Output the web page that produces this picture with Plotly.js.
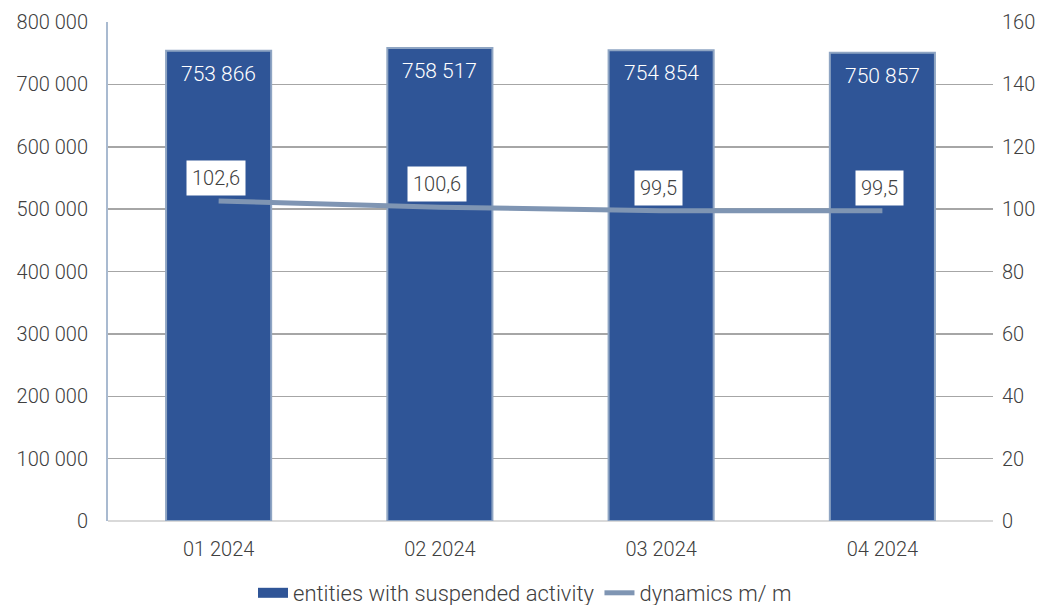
<!DOCTYPE html>
<html>
<head>
<meta charset="utf-8">
<script src="https://cdn.plot.ly/plotly-3.0.1.min.js"></script>
<style>html,body{margin:0;padding:0;background:#fff;}#chart{width:1050px;height:605px;}</style>
</head>
<body>
<div id="chart"></div>
<script>
const categories = ['01 2024', '02 2024', '03 2024', '04 2024'];
const entities = [753866, 758517, 754854, 750857];
const dynamics = [102.6, 100.6, 99.5, 99.5];
const leftTicks = [0, 100000, 200000, 300000, 400000, 500000, 600000, 700000, 800000];
const rightTicks = [0, 20, 40, 60, 80, 100, 120, 140, 160];
const barName = 'entities with suspended activity';
const lineName = 'dynamics m/ m';

const fontFam = 'Roboto, "DejaVu Sans", sans-serif';
const txtCol = '#404040';
const barCol = '#2F5597';

const fmtInt = v => String(v).replace(/\B(?=(\d{3})+(?!\d))/g, ' ');
const fmtDec = v => v.toFixed(1).replace('.', ',');

const traces = [
  {
    type: 'bar', x: categories, y: entities, name: barName, showlegend: false,
    marker: {color: barCol, line: {color: '#8FA5C3', width: 2}},
    hoverinfo: 'skip'
  },
  {
    // legend key for the bar series (wide rectangle as in the reference)
    type: 'scatter', mode: 'lines', x: [null], y: [null], name: barName,
    line: {color: barCol, width: 13}, showlegend: true, hoverinfo: 'skip'
  },
  {
    type: 'scatter', mode: 'lines', x: categories, y: dynamics, yaxis: 'y2',
    name: lineName,
    line: {color: '#7F95B3', width: 5}, hoverinfo: 'skip'
  }
];

const barLabels = categories.map((c, i) => ({
  x: c, y: entities[i], xref: 'x', yref: 'y',
  text: fmtInt(entities[i]), showarrow: false,
  yanchor: 'middle', yshift: -23,
  font: {size: 21, color: '#ffffff', family: fontFam, weight: 300}
}));

const lineLabels = categories.map((c, i) => ({
  x: c, y: dynamics[i], xref: 'x', yref: 'y2',
  text: fmtDec(dynamics[i]),
  showarrow: false, yshift: 23, xshift: -3,
  bgcolor: '#ffffff', borderpad: 5,
  font: {size: 20, color: '#404040', family: fontFam, weight: 300}
}));

const layout = {
  width: 1050, height: 605,
  margin: {l: 108, r: 57, t: 22, b: 84, autoexpand: false},
  paper_bgcolor: '#ffffff', plot_bgcolor: '#ffffff',
  separators: ', ',
  font: {family: fontFam, color: txtCol, size: 20, weight: 300},
  bargap: 0.525,
  showlegend: true,
  legend: {orientation: 'h', x: 0.5, xanchor: 'center', xref: 'container',
           y: 12 / 605, yanchor: 'middle', yref: 'container',
           font: {size: 22, color: txtCol, weight: 300}, itemwidth: 30, tracegroupgap: 0,
           traceorder: 'normal'},
  xaxis: {type: 'category', showgrid: false, ticks: '', showline: false,
          ticklabelstandoff: 14,
          tickfont: {size: 20, color: txtCol, weight: 300}, fixedrange: true},
  yaxis: {range: [0, 800000], tickvals: leftTicks, tickformat: ',d',
          showgrid: true, gridcolor: '#A6A6A6', gridwidth: 1.5,
          showline: true, linecolor: '#A9BAD0', linewidth: 2,
          zeroline: true, zerolinecolor: '#D9D9D9', zerolinewidth: 2,
          ticks: '', ticklabelstandoff: 14,
          tickfont: {size: 20, color: txtCol, weight: 300}, fixedrange: true},
  yaxis2: {range: [0, 160], tickvals: rightTicks, overlaying: 'y', side: 'right',
           showgrid: false, zeroline: false, showline: false,
           ticklabelstandoff: 8,
           tickfont: {size: 20, color: txtCol, weight: 300}, fixedrange: true},
  annotations: barLabels.concat(lineLabels)
};

Plotly.newPlot('chart', traces, layout, {displayModeBar: false, staticPlot: true});
</script>
</body>
</html>
